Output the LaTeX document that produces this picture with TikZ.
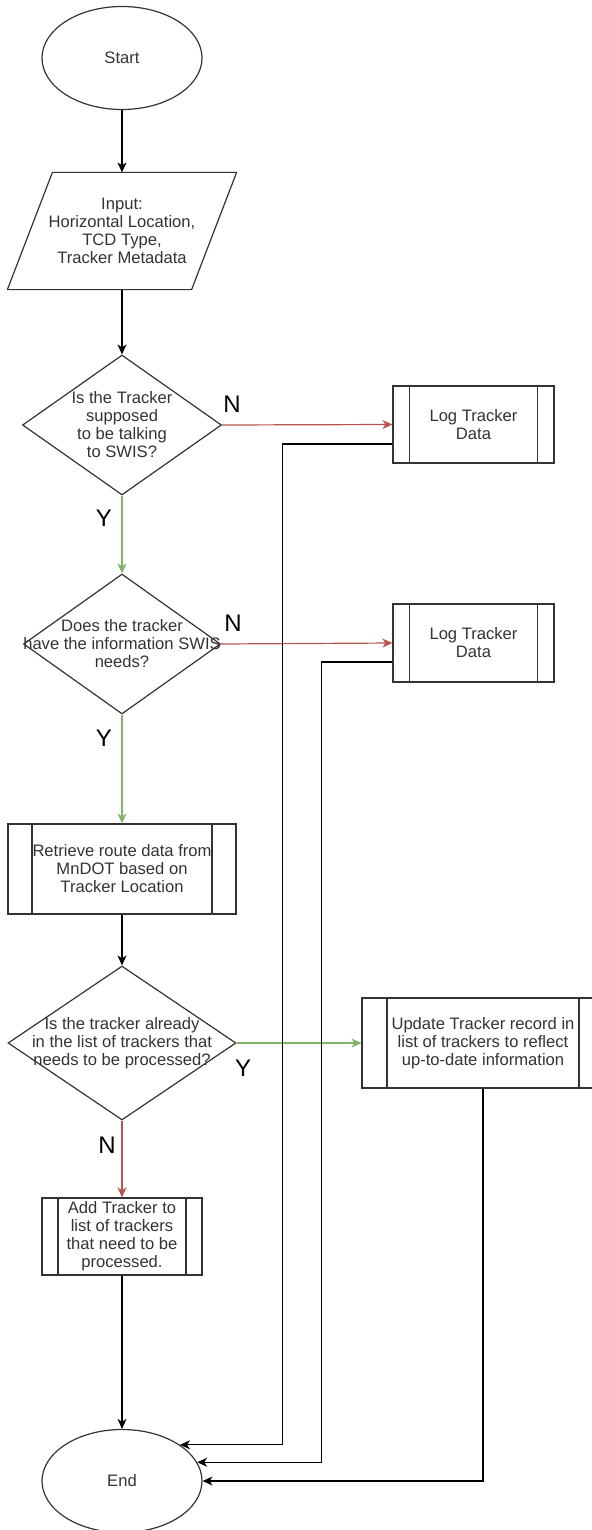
\documentclass[tikz,border=0pt]{standalone}
\usepackage{fontspec}
\setmainfont{Liberation Sans}
\usepackage{tikz}
\usetikzlibrary{shapes.geometric,arrows.meta}
\definecolor{ink}{HTML}{333333}
\definecolor{nored}{HTML}{B85450}
\definecolor{yesgreen}{HTML}{82B366}
\tikzset{
  term/.style={ellipse,draw=ink,inner sep=0pt,minimum width=80pt,minimum height=51.5pt},
  dec/.style={diamond,draw=ink,inner sep=0pt},
  proc/.style={rectangle,draw=ink,inner sep=0pt,align=center,
    path picture={\draw[ink] ([xshift=#1]path picture bounding box.north west) -- ([xshift=#1]path picture bounding box.south west)
      ([xshift=-#1]path picture bounding box.north east) -- ([xshift=-#1]path picture bounding box.south east);}},
  arr/.style={-{Stealth[length=5pt,width=4.5pt,inset=1.5pt]}},
  yn/.style={font=\fontsize{12}{14}\selectfont,text=black},
  lbl/.style={align=center}
}
\begin{document}
\begin{tikzpicture}[semithick,x=0.5pt,y=-0.5pt,font=\fontsize{8.3}{9}\selectfont,text=ink]
\useasboundingbox (0,0) rectangle (592,1530);
\clip (0,0) rectangle (592,1530);
\node[term] (start) at (122,58) {Start};
\node[align=center,inner sep=0pt,minimum width=91.5pt,minimum height=58pt] (inp) at (122,231) {Input:\\Horizontal Location,\\TCD Type,\\Tracker Metadata};
\draw[ink] ([xshift=11.25pt]inp.north west) -- ([xshift=11.25pt]inp.north east) -- ([xshift=-11.25pt]inp.south east) -- ([xshift=-11.25pt]inp.south west) -- cycle;
\node[dec,minimum width=99.5pt,minimum height=70pt,label={[lbl]center:{Is the Tracker\\supposed\\to be talking\\to SWIS?}}] (q1) at (122,425) {};
\node[dec,minimum width=98.5pt,minimum height=70pt,label={[lbl]center:{Does the tracker\\have the information SWIS\\needs?}}] (q2) at (122,644) {};
\node[proc=12pt,minimum width=114pt,minimum height=45pt] (ret) at (122,869) {Retrieve route data from\\MnDOT based on\\Tracker Location};
\node[dec,minimum width=114pt,minimum height=77pt,label={[lbl]center:{Is the tracker already\\in the list of trackers that\\needs to be processed?}}] (q3) at (122,1043) {};
\node[proc=8pt,minimum width=80pt,minimum height=38.5pt] (add) at (122,1236.5) {Add Tracker to\\list of trackers\\that need to be\\processed.};
\node[term] (end) at (122,1481) {End};
\node[proc=8.25pt,minimum width=80.5pt,minimum height=38.5pt] (log1) at (473.5,424.5) {Log Tracker\\Data};
\node[proc=8.25pt,minimum width=80.5pt,minimum height=39pt] (log2) at (473.5,643) {Log Tracker\\Data};
\node[proc=12.5pt,minimum width=121pt,minimum height=45pt] (upd) at (483,1043) {Update Tracker record in\\list of trackers to reflect\\up-to-date information};
\node[yn] (n1) at (232,404) {N};
\node[yn] (y1) at (104,518) {Y};
\node[yn] (n2) at (233,623) {N};
\node[yn] (y2) at (104,738) {Y};
\node[yn] (y3) at (243,1068) {Y};
\node[yn] (n3) at (107,1145) {N};
\draw[arr] (start) -- (inp);
\draw[arr] (inp) -- (q1);
\draw[arr,nored] (q1.east) -- (log1.west);
\draw[arr,yesgreen] (q1) -- (q2);
\draw[arr,nored] (q2.east) -- (log2.west);
\draw[arr,yesgreen] (q2) -- (ret);
\draw[arr] (ret) -- (q3);
\draw[arr,yesgreen] (q3.east) -- (upd.west);
\draw[arr,nored] (q3) -- (add);
\draw[arr] (add) -- (end);
\draw[arr] ([yshift=-9.75pt]log1.west) -- ++(-110,0) |- (end.32);
\draw[arr] ([yshift=-9.5pt]log2.west) -- ++(-71,0) |- (end.14);
\draw[arr] (upd.south) |- (end.east);
\end{tikzpicture}
\end{document}
